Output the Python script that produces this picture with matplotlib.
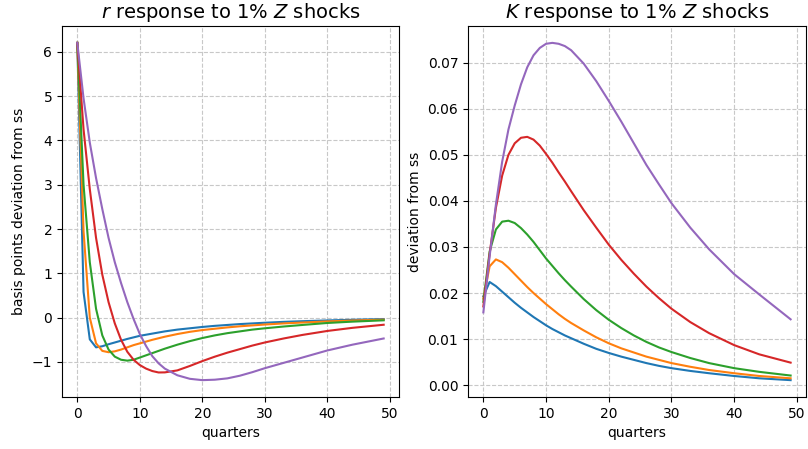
import matplotlib
matplotlib.use("Agg")
import matplotlib.pyplot as plt

QUARTERS = [0, 1, 2, 3, 4, 5, 6, 7, 8, 9, 10, 11, 12, 13, 14, 16, 18, 20,
            22, 24, 26, 28, 30, 33, 36, 40, 44, 49]

# r response, basis points (one list per shock persistence)
r_rho02 = [6.2, 0.58, -0.49, -0.67, -0.645, -0.60, -0.56, -0.52, -0.48, -0.445, -0.41,
           -0.385, -0.36, -0.335, -0.31, -0.27, -0.24, -0.21, -0.185, -0.165, -0.145, -0.13, -0.115,
           -0.095, -0.08, -0.063, -0.048, -0.033]
r_rho04 = [6.2, 1.95, 0.0, -0.58, -0.75, -0.78, -0.76, -0.72, -0.67, -0.62, -0.58,
           -0.54, -0.50, -0.465, -0.43, -0.37, -0.32, -0.28, -0.25, -0.22, -0.195, -0.175, -0.155,
           -0.13, -0.11, -0.085, -0.065, -0.045]
r_rho06 = [6.2, 3.0, 1.25, 0.2, -0.4, -0.72, -0.88, -0.95, -0.97, -0.95, -0.90,
           -0.85, -0.80, -0.75, -0.70, -0.61, -0.53, -0.46, -0.40, -0.35, -0.31, -0.27, -0.24,
           -0.20, -0.165, -0.12, -0.09, -0.06]
r_rho08 = [6.2, 4.25, 2.9, 1.8, 0.97, 0.35, -0.13, -0.5, -0.77, -0.95, -1.07,
           -1.15, -1.205, -1.237, -1.235, -1.19, -1.09, -0.98, -0.88, -0.79, -0.71, -0.63, -0.56,
           -0.47, -0.39, -0.30, -0.23, -0.16]
r_rho09 = [6.2, 4.95, 3.95, 3.15, 2.45, 1.8, 1.25, 0.78, 0.35, -0.03, -0.37,
           -0.64, -0.87, -1.03, -1.15, -1.30, -1.38, -1.41, -1.40, -1.37, -1.31, -1.23, -1.14,
           -1.02, -0.90, -0.74, -0.61, -0.47]

# K response, deviation from steady state
k_rho02 = [0.0193, 0.0224, 0.0215, 0.0203, 0.0191, 0.0179, 0.0168, 0.0158, 0.0148, 0.0139, 0.0130,
           0.0122, 0.0115, 0.0108, 0.0102, 0.0090, 0.0079, 0.0070, 0.0062, 0.0055, 0.0048, 0.0042, 0.0037,
           0.0031, 0.0026, 0.0020, 0.0015, 0.0011]
k_rho04 = [0.0188, 0.0258, 0.0273, 0.0267, 0.0255, 0.0241, 0.0227, 0.0213, 0.0200, 0.0188, 0.0176,
           0.0165, 0.0154, 0.0144, 0.0135, 0.0119, 0.0104, 0.0091, 0.0080, 0.0071, 0.0062, 0.0055, 0.0048,
           0.0040, 0.0033, 0.0026, 0.0020, 0.0015]
k_rho06 = [0.0181, 0.0290, 0.0338, 0.0355, 0.0357, 0.0352, 0.0341, 0.0327, 0.0311, 0.0293, 0.0275,
           0.0259, 0.0243, 0.0228, 0.0214, 0.0187, 0.0163, 0.0142, 0.0124, 0.0108, 0.0094, 0.0082, 0.0072,
           0.0059, 0.0048, 0.0037, 0.0029, 0.0021]
k_rho08 = [0.0171, 0.0285, 0.0385, 0.0455, 0.0500, 0.0525, 0.0537, 0.0539, 0.0533, 0.0520, 0.0502,
           0.0483, 0.0462, 0.0442, 0.0421, 0.0380, 0.0342, 0.0305, 0.0272, 0.0242, 0.0214, 0.0189, 0.0166,
           0.0137, 0.0113, 0.0087, 0.0067, 0.0049]
k_rho09 = [0.0158, 0.0280, 0.0392, 0.0485, 0.0555, 0.0607, 0.0653, 0.0690, 0.0716, 0.0732, 0.0741,
           0.0743, 0.0741, 0.0736, 0.0727, 0.0698, 0.0660, 0.0617, 0.0572, 0.0525, 0.0478, 0.0436, 0.0395,
           0.0342, 0.0295, 0.0241, 0.0197, 0.0143]

r_series = [r_rho02, r_rho04, r_rho06, r_rho08, r_rho09]
k_series = [k_rho02, k_rho04, k_rho06, k_rho08, k_rho09]


def style_axes(ax):
    ax.grid(True, linestyle='--', color='#c8c8c8', linewidth=0.8)
    ax.set_axisbelow(True)


fig = plt.figure(figsize=(8.08, 4.49), dpi=100)
ax1 = fig.add_axes([0.0767, 0.1158, 0.4171, 0.8263])
ax2 = fig.add_axes([0.5792, 0.1158, 0.4183, 0.8263])

for r in r_series:
    ax1.plot(QUARTERS, r)
style_axes(ax1)
ax1.set_title(r'$r$ response to 1% $Z$ shocks', fontsize=14)
ax1.set_ylabel('basis points deviation from ss')
ax1.set_xlabel('quarters')

for k in k_series:
    ax2.plot(QUARTERS, k)
style_axes(ax2)
ax2.set_title(r'$K$ response to 1% $Z$ shocks', fontsize=14)
ax2.set_ylabel('deviation from ss')
ax2.set_xlabel('quarters')

fig.savefig("out.png", dpi=100)
